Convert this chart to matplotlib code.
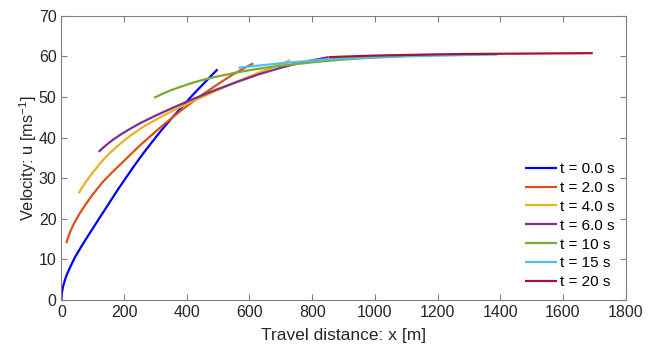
import numpy as np
import matplotlib
matplotlib.use("Agg")
import matplotlib.pyplot as plt

plt.rcParams['font.family'] = ['Liberation Sans', 'DejaVu Sans']
plt.rcParams['mathtext.fontset'] = 'custom'
plt.rcParams['mathtext.rm'] = 'Liberation Sans'

# curvas u(x), una por cada instante t
x_t0 = [0, 1, 3, 6, 11, 18, 28, 43, 60, 75, 95, 118, 140, 160, 181, 205,
        229, 260, 290, 320, 350, 393, 420, 450, 475, 498]
u_t0 = [0, 1.3, 2.4, 3.5, 4.9, 6.4, 8.1, 10.5, 12.7, 14.6, 17.0, 19.8, 22.4,
        24.8, 27.3, 30.0, 32.7, 36.0, 39.0, 41.9, 44.6, 48.3, 50.6, 53.0,
        55.0, 56.8]

x_t2 = [15.7, 20, 28, 40, 55, 75, 100, 130, 160, 200, 255, 320, 382, 450,
        500, 548, 612]
u_t2 = [14.0, 15.1, 16.8, 18.8, 20.9, 23.3, 26.0, 28.9, 31.3, 34.3, 38.4,
        42.8, 46.7, 50.6, 53.2, 55.6, 58.3]

x_t4 = [55, 65, 80, 100, 125, 150, 180, 220, 260, 310, 360, 420, 490, 560,
        630, 690, 730]
u_t4 = [26.3, 27.6, 29.3, 31.4, 33.8, 35.9, 38.0, 40.5, 42.6, 44.8, 46.8,
        49.0, 51.4, 53.8, 56.0, 57.8, 59.1]

x_t6 = [119, 130, 145, 165, 190, 220, 250, 300, 360, 420, 490, 560, 630,
        700, 770, 851]
u_t6 = [36.5, 37.3, 38.3, 39.5, 40.8, 42.2, 43.5, 45.4, 47.5, 49.5, 51.7,
        53.7, 55.6, 57.2, 58.6, 59.8]

x_t10 = [296, 320, 350, 380, 410, 450, 500, 550, 600, 650, 700, 760, 820,
         880, 950, 1020, 1090]
u_t10 = [49.8, 50.7, 51.7, 52.5, 53.3, 54.2, 55.1, 55.9, 56.6, 57.2, 57.7,
         58.2, 58.7, 59.1, 59.5, 59.8, 60.0]

x_t15 = [565, 600, 650, 700, 760, 820, 880, 950, 1050, 1150, 1270, 1390]
u_t15 = [57.2, 57.5, 57.9, 58.3, 58.7, 59.1, 59.4, 59.6, 59.9, 60.1, 60.3,
         60.45]

x_t20 = [852, 900, 1000, 1100, 1200, 1300, 1400, 1500, 1600, 1695]
u_t20 = [59.8, 59.95, 60.2, 60.35, 60.5, 60.6, 60.65, 60.7, 60.75, 60.8]

etiquetas = ['t = 0.0 s', 't = 2.0 s', 't = 4.0 s', 't = 6.0 s',
             't = 10 s', 't = 15 s', 't = 20 s']
colores = ['#0000ff', '#d95319', '#edb120', '#7e2f8e',
           '#77ac30', '#4dbeee', '#a2142f']

curvas = [(x_t0, u_t0), (x_t2, u_t2), (x_t4, u_t4), (x_t6, u_t6),
          (x_t10, u_t10), (x_t15, u_t15), (x_t20, u_t20)]

fig = plt.figure(figsize=(6.56, 3.54), dpi=100)
ax = fig.add_axes([0.0936, 0.1525, 0.8602, 0.8029])

for (x, u), c, lab in zip(curvas, colores, etiquetas):
    ax.plot(x, u, color=c, lw=1.6, label=lab, solid_capstyle='butt')

ax.set_xlim(0, 1800)
ax.set_ylim(0, 70)
ax.set_xticks(np.arange(0, 1801, 200))
ax.set_yticks(np.arange(0, 71, 10))

gris = '#808080'
for s in ax.spines.values():
    s.set_color(gris)
    s.set_linewidth(0.8)
ax.tick_params(direction='in', top=True, right=True, length=4,
               color=gris, labelcolor='#262626', labelsize=11.5, width=0.8)

ax.set_xlabel('Travel distance: x [m]', fontsize=12.5, color='#262626', labelpad=6)
ax.set_ylabel('Velocity: u [ms$^{-1}$]', fontsize=11.8, color='#262626', labelpad=0)

ax.legend(loc='lower right', bbox_to_anchor=(1.0, 0.0), frameon=False,
          fontsize=11, handlelength=2.1, handletextpad=0.2, labelspacing=0.32,
          borderaxespad=0.3)

fig.savefig('out.png', dpi=100)
